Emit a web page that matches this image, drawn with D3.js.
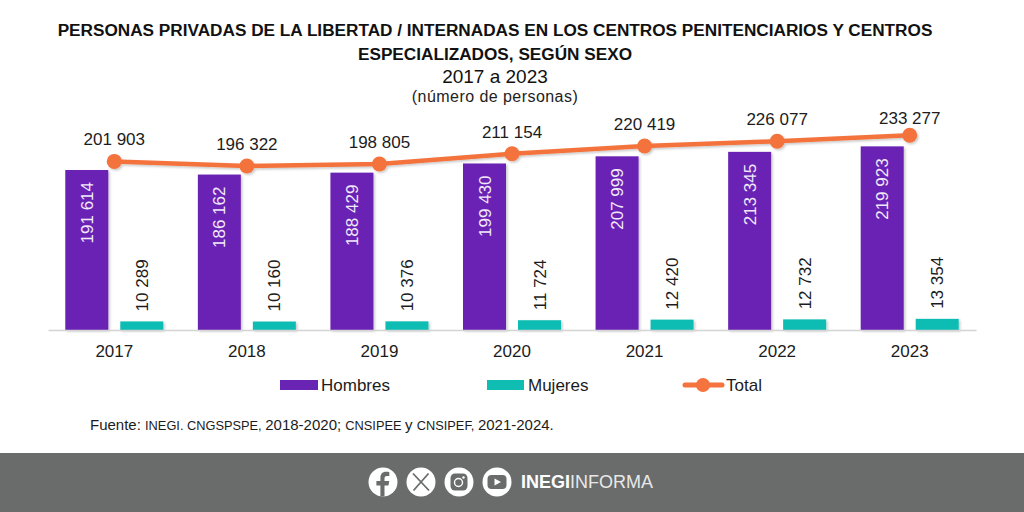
<!DOCTYPE html>
<html><head><meta charset="utf-8">
<script src="https://cdn.jsdelivr.net/npm/d3@7/dist/d3.min.js"></script>
<style>html,body{margin:0;padding:0;background:#fff}svg{display:block}text{font-family:"Liberation Sans",Arial,sans-serif}</style>
</head><body><svg id="c" width="1024" height="512"></svg>
<script>
const years=["2017","2018","2019","2020","2021","2022","2023"];
const hombres=[191614,186162,188429,199430,207999,213345,219923];
const mujeres=[10289,10160,10376,11724,12420,12732,13354];
const total=[201903,196322,198805,211154,220419,226077,233277];
const titleLines=["PERSONAS PRIVADAS DE LA LIBERTAD / INTERNADAS EN LOS CENTROS PENITENCIARIOS Y CENTROS","ESPECIALIZADOS, SEGÚN SEXO"];
const C={h:"#6a24b4",m:"#10bdb3",t:"#f4733e",txt:"#1c1c1c",band:"#6a6c6c"};
const fmt=v=>String(v).replace(/\B(?=(\d{3})+$)/g," ");
const svg=d3.select("#c");
const defs=svg.append("defs");
const f=defs.append("filter").attr("id","sh").attr("x","-20%").attr("y","-20%").attr("width","150%").attr("height","150%");
f.append("feDropShadow").attr("dx",1.5).attr("dy",1.5).attr("stdDeviation",1.2).attr("flood-color","#000").attr("flood-opacity",.22);

const x=d3.scaleBand().domain(years).range([48,976]);
const y=d3.scaleLinear().domain([0,240000]).range([330,129.6]);
const sub=d3.scaleBand().domain(["h","m"]).range([x.bandwidth()/2-49,x.bandwidth()/2+49]).paddingInner(12/55);
const cx=d=>x(d)+x.bandwidth()/2;

// title
svg.selectAll("text.t").data(titleLines).join("text").attr("class","t")
 .attr("x",495).attr("y",(d,i)=>36+i*24).attr("text-anchor","middle")
 .attr("font-size",17.2).attr("font-weight",700).attr("fill","#111").text(d=>d);
svg.append("text").attr("x",495).attr("y",83).attr("text-anchor","middle").attr("font-size",19).attr("fill","#111").text("2017 a 2023");
svg.append("text").attr("x",495).attr("y",102).attr("text-anchor","middle").attr("font-size",16).attr("letter-spacing",.45).attr("fill","#222").text("(número de personas)");

// bars
const g=svg.append("g");
g.selectAll("rect.h").data(years).join("rect").attr("class","h")
 .attr("x",d=>x(d)+sub("h")).attr("width",sub.bandwidth())
 .attr("y",(d,i)=>y(hombres[i])).attr("height",(d,i)=>y(0)-y(hombres[i]))
 .attr("fill",C.h).attr("filter","url(#sh)");
g.selectAll("rect.m").data(years).join("rect").attr("class","m")
 .attr("x",d=>x(d)+sub("m")).attr("width",sub.bandwidth())
 .attr("y",(d,i)=>y(mujeres[i])).attr("height",(d,i)=>y(0)-y(mujeres[i]))
 .attr("fill",C.m).attr("filter","url(#sh)");

// axis
const ax=svg.append("g").attr("transform",`translate(0,${y(0)})`).call(d3.axisBottom(x).tickSize(0).tickPadding(15));
ax.select(".domain").attr("stroke","#d4d4d4").attr("stroke-width",1.5);
ax.selectAll("text").attr("font-size",17).attr("fill",C.txt).attr("font-family",'"Liberation Sans",Arial,sans-serif');

// rotated labels
g.selectAll("text.hl").data(years).join("text").attr("class","hl")
 .attr("transform",(d,i)=>`translate(${x(d)+sub("h")+sub.bandwidth()/2+6},${y(hombres[i])+12}) rotate(-90)`)
 .attr("text-anchor","end").attr("font-size",17).attr("fill","#f1e9fa").text((d,i)=>fmt(hombres[i]));
g.selectAll("text.ml").data(years).join("text").attr("class","ml")
 .attr("transform",(d,i)=>`translate(${x(d)+sub("m")+sub.bandwidth()/2+6},${y(mujeres[i])-10}) rotate(-90)`)
 .attr("text-anchor","start").attr("font-size",17).attr("fill",C.txt).text((d,i)=>fmt(mujeres[i]));

// line
const line=d3.line().x(d=>cx(d)).y((d,i)=>y(total[i]));
const lg=svg.append("g").attr("filter","url(#sh)");
lg.append("path").datum(years).attr("d",line).attr("fill","none").attr("stroke",C.t).attr("stroke-width",4.5).attr("stroke-linecap","round");
lg.selectAll("circle").data(years).join("circle").attr("cx",cx).attr("cy",(d,i)=>y(total[i])).attr("r",7.5).attr("fill",C.t);
svg.selectAll("text.tl").data(years).join("text").attr("class","tl")
 .attr("x",cx).attr("y",(d,i)=>y(total[i])-(i===6?11:16)).attr("text-anchor","middle").attr("font-size",17).attr("fill",C.txt).text((d,i)=>fmt(total[i]));

// legend
const lgd=svg.append("g");
lgd.append("rect").attr("x",280).attr("y",380).attr("width",38).attr("height",10).attr("fill",C.h);
lgd.append("text").attr("x",321).attr("y",391).attr("font-size",17).attr("fill",C.txt).text("Hombres");
lgd.append("rect").attr("x",487).attr("y",380).attr("width",37).attr("height",10).attr("fill",C.m);
lgd.append("text").attr("x",528).attr("y",391).attr("font-size",17).attr("fill",C.txt).text("Mujeres");
lgd.append("line").attr("x1",685).attr("x2",722).attr("y1",385).attr("y2",385).attr("stroke",C.t).attr("stroke-width",5).attr("stroke-linecap","round");
lgd.append("circle").attr("cx",703).attr("cy",385).attr("r",7).attr("fill",C.t);
lgd.append("text").attr("x",726).attr("y",391).attr("font-size",17).attr("fill",C.txt).text("Total");

// source
const src=svg.append("text").attr("x",90).attr("y",430).attr("font-size",15).attr("fill",C.txt);
src.append("tspan").text("Fuente: ");
src.append("tspan").attr("font-size",12.8).text("INEGI. CNGSPSPE, ");
src.append("tspan").text("2018-2020; ");
src.append("tspan").attr("font-size",12.8).text("CNSIPEE ");
src.append("tspan").text("y ");
src.append("tspan").attr("font-size",12.8).text("CNSIPEF, ");
src.append("tspan").text("2021-2024.");

// footer
svg.append("rect").attr("x",0).attr("y",453).attr("width",1024).attr("height",59).attr("fill",C.band);
const icons=svg.append("g");
const iy=482,ix=[383,421,459,497];
icons.selectAll("circle").data(ix).join("circle").attr("cx",d=>d).attr("cy",iy).attr("r",14.5).attr("fill","#fff");
icons.append("path").attr("d",`M${ix[0]+1.5} ${iy+14.5}v-11h4l.7-4.5h-4.7v-2.6c0-1.5.6-2.4 2.4-2.4h2.4v-4c-1-.1-2-.2-3.2-.2-3.5 0-5.7 2.1-5.7 6v3.2h-4v4.5h4v11z`).attr("fill",C.band);
icons.append("path").attr("d",`M${ix[1]-8} ${iy-8.5}L${ix[1]+8} ${iy+8.5}M${ix[1]+7.5} ${iy-8.5}L${ix[1]-7.5} ${iy+8.5}`).attr("stroke",C.band).attr("stroke-width",1.8).attr("fill","none");
icons.append("rect").attr("x",ix[2]-8.5).attr("y",iy-8.5).attr("width",17).attr("height",17).attr("rx",4.5).attr("fill",C.band);
icons.append("circle").attr("cx",ix[2]-.5).attr("cy",iy+.5).attr("r",4).attr("fill","none").attr("stroke","#fff").attr("stroke-width",1.4);
icons.append("circle").attr("cx",ix[2]+4.5).attr("cy",iy-4.5).attr("r",1.2).attr("fill","#fff");
icons.append("rect").attr("x",ix[3]-9.5).attr("y",iy-7).attr("width",19).attr("height",14).attr("rx",4).attr("fill",C.band);
icons.append("path").attr("d",`M${ix[3]-2.5} ${iy-3.5}L${ix[3]+4} ${iy}L${ix[3]-2.5} ${iy+3.5}Z`).attr("fill","#fff");
const brand=svg.append("text").attr("x",521).attr("y",488).attr("font-size",18).attr("fill","#fff").attr("font-family",'"Liberation Sans",Arial,sans-serif');
brand.append("tspan").attr("font-weight",700).text("INEGI");
brand.append("tspan").attr("fill","#e8e8e8").text("INFORMA");
</script></body></html>
